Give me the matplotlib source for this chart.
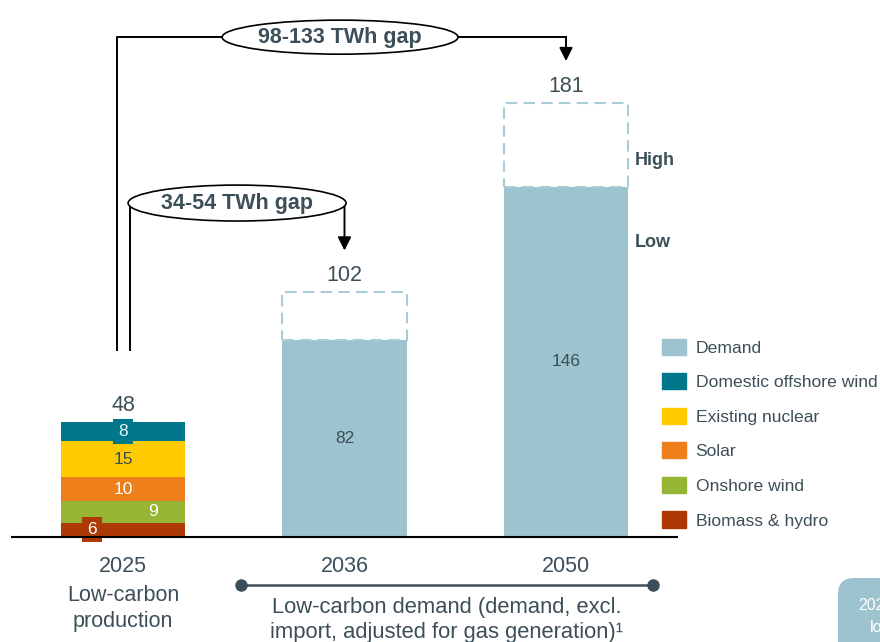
import matplotlib.pyplot as plt
from matplotlib.patches import Ellipse, FancyBboxPatch, Patch
from matplotlib.transforms import IdentityTransform

plt.rcParams['font.family'] = ['Liberation Sans', 'DejaVu Sans']

TEXT = '#3C4F58'
DEMAND = '#9DC3CE'
DASH = '#A8CDD7'

# 2025 low-carbon production by source (TWh), bottom to top
sources = ['Biomass & hydro', 'Onshore wind', 'Solar', 'Existing nuclear', 'Domestic offshore wind']
production = [6, 9, 10, 15, 8]
source_colors = ['#AD3A05', '#97B535', '#EE7F1B', '#FFCB00', '#00778B']
value_colors = ['white', 'white', 'white', TEXT, '#E6F2F5']
value_shift = [-0.14, 0.135, 0, 0, 0]
value_boxed = [True, False, False, False, True]

# low-carbon demand scenarios (TWh)
demand_years = ['2036', '2050']
demand_low = [82, 146]
demand_high = [102, 181]

fig = plt.figure(figsize=(8.8, 6.42), dpi=100)
ax = fig.add_axes([0, 0, 1, 1])
ax.set_xlim(-0.5553, 3.4176)
ax.set_ylim(-43.8, 224.0)
ax.axis('off')

W = 0.56

# stacked 2025 bar
bottom = 0
for val, col, tcol, dx, boxed in zip(production, source_colors, value_colors, value_shift, value_boxed):
    ax.bar(0, val, bottom=bottom, width=W, color=col, zorder=2)
    bbox = dict(boxstyle='square,pad=0.28', fc=col, ec='none') if boxed else None
    ax.text(dx, bottom + val / 2, str(val), ha='center', va='center', fontsize=12.5,
            color=tcol, bbox=bbox, zorder=4)
    bottom += val
total = bottom
ax.text(0, total + 7, str(total), ha='center', va='center', fontsize=15.5, color=TEXT)

# demand bars: solid low case, dashed outline up to the high case
xs = [1, 2]
ax.bar(xs, demand_low, width=W, color=DEMAND, zorder=2)
ax.bar(xs, [h - l for h, l in zip(demand_high, demand_low)], bottom=demand_low, width=W,
       fill=False, edgecolor=DASH, linestyle=(0, (5.5, 3)), linewidth=1.5, zorder=3)
for x, lo, hi in zip(xs, demand_low, demand_high):
    ax.text(x, lo / 2, str(lo), ha='center', va='center', fontsize=12.5, color=TEXT)
    ax.text(x, hi + 7, str(hi), ha='center', va='center', fontsize=15.5, color=TEXT)

ax.text(2.31, 157, 'High', ha='left', va='center', fontsize=13, fontweight='bold', color=TEXT)
ax.text(2.31, 123, 'Low', ha='left', va='center', fontsize=13, fontweight='bold', color=TEXT)

# baseline
ax.plot([-0.5, 2.5], [0, 0], color='black', lw=1.5, zorder=5)

# gap connectors
gap_labels = ['%d-%d TWh gap' % (lo - total, hi - total) for lo, hi in zip(demand_low, demand_high)]
arrow = dict(arrowstyle='-|>', mutation_scale=20, color='black', lw=1.4, shrinkA=0, shrinkB=0)

# 2036
ey = 139.3
ax.plot([0.0316, 0.0316], [78, ey], color='black', lw=1.4, zorder=1)
ax.add_patch(Ellipse((0.515, ey), 0.984, 15.0, fc='white', ec='black', lw=1.2, zorder=6))
ax.text(0.515, ey, gap_labels[0], ha='center', va='center', fontsize=15.5,
        fontweight='bold', color=TEXT, zorder=7)
ax.annotate('', xy=(1, demand_high[0] + 17.5), xytext=(1, ey), arrowprops=arrow, zorder=5)

# 2050
ey = 208.5
ax.plot([-0.027, -0.027, 2], [78, ey, ey], color='black', lw=1.4, zorder=1)
ax.add_patch(Ellipse((0.98, ey), 1.065, 14.2, fc='white', ec='black', lw=1.2, zorder=6))
ax.text(0.98, ey, gap_labels[1], ha='center', va='center', fontsize=15.5,
        fontweight='bold', color=TEXT, zorder=7)
ax.annotate('', xy=(2, demand_high[1] + 17.5), xytext=(2, ey), arrowprops=arrow, zorder=5)

# category labels
ax.text(0, -12.1, '2025', ha='center', va='center', fontsize=15.5, color=TEXT)
ax.text(0, -29.8, 'Low-carbon\nproduction', ha='center', va='center', fontsize=15.5,
        color=TEXT, linespacing=1.3)
for x, yr in zip(xs, demand_years):
    ax.text(x, -12.1, yr, ha='center', va='center', fontsize=15.5, color=TEXT)

ax.plot([0.533, 2.393], [-20.0, -20.0], color=TEXT, lw=1.8, marker='o', markersize=8,
        clip_on=False)
ax.text(1.46, -34.8, 'Low-carbon demand (demand, excl.\nimport, adjusted for gas generation)\u00b9',
        ha='center', va='center', fontsize=15.8, color=TEXT, linespacing=1.25)

# legend
handles = [Patch(color=DEMAND, label='Demand')]
handles += [Patch(color=c, label=s) for s, c in zip(sources[::-1], source_colors[::-1])]
leg = ax.legend(handles=handles, loc='upper left', bbox_to_anchor=(662 / 880, 1 - 338.5 / 642),
                bbox_transform=fig.transFigure, frameon=False, fontsize=12.6,
                handlelength=1.37, handleheight=1.05, handletextpad=0.55,
                labelspacing=1.0, borderpad=0, borderaxespad=0)
for t in leg.get_texts():
    t.set_color(TEXT)

# side tab at the lower right
fig.patches.append(FancyBboxPatch((838, -30), 80, 94, boxstyle='round,pad=0,rounding_size=16',
                                  fc=DEMAND, ec='none', transform=IdentityTransform()))
fig.text(858 / 880, 37 / 642, '2025', ha='left', va='center', fontsize=11.5, color='white')
fig.text(870 / 880, 14 / 642, 'low', ha='left', va='center', fontsize=11.5, color='white')

fig.savefig('out.png', dpi=100)
